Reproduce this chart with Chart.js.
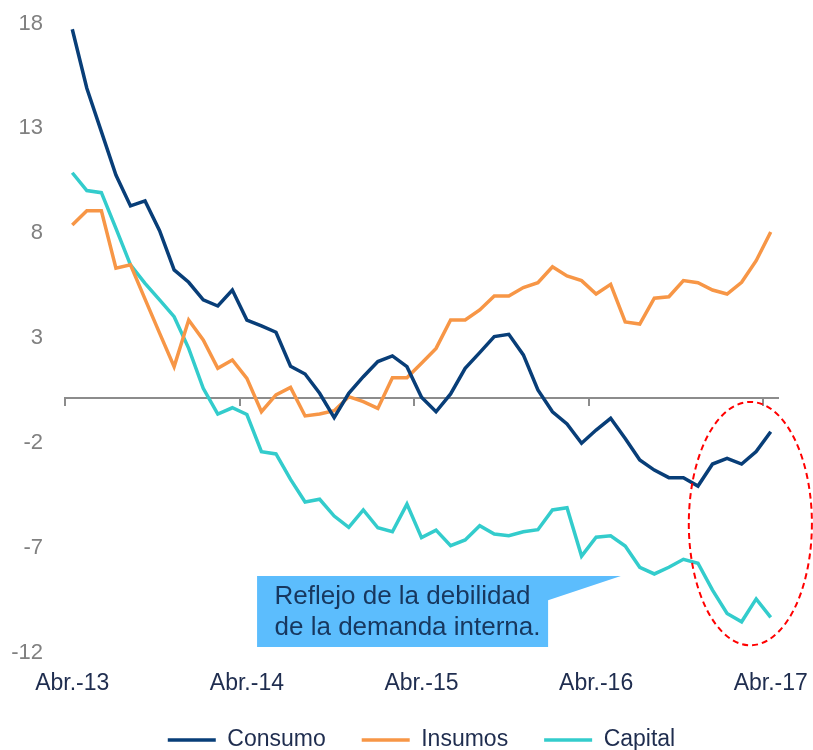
<!DOCTYPE html>
<html>
<head>
<meta charset="utf-8">
<script src="https://cdn.jsdelivr.net/npm/chart.js@4.4.0/dist/chart.umd.min.js"></script>
<style>
  html, body { margin: 0; padding: 0; background: #fff; }
</style>
</head>
<body>
<canvas id="chart" width="813" height="750"></canvas>
<script>
// meses abr-13 .. abr-17
const meses = ['Abr.', 'May.', 'Jun.', 'Jul.', 'Ago.', 'Sep.', 'Oct.', 'Nov.', 'Dic.', 'Ene.', 'Feb.', 'Mar.'];
const etiquetas = [];
for (let i = 0; i < 49; i++) {
  etiquetas.push(meses[i % 12] + '-' + (13 + Math.floor((i + 3) / 12)));
}

const consumo = [17.56, 14.75, 12.68, 10.61, 9.14, 9.38, 7.96, 6.09, 5.50, 4.66, 4.37, 5.13,
  3.70, 3.42, 3.12, 1.50, 1.13, 0.21, -0.95, 0.21, 1.00, 1.72, 1.99, 1.48,
  0.02, -0.67, 0.18, 1.40, 2.15, 2.91, 3.02, 2.04, 0.37, -0.67, -1.25, -2.17,
  -1.54, -0.98, -1.94, -2.97, -3.45, -3.81, -3.81, -4.21, -3.16, -2.89, -3.16, -2.57,
  -1.62];
const insumos = [8.23, 8.91, 8.91, 6.17, 6.33, 4.70, 3.08, 1.48, 3.70, 2.75, 1.40, 1.80,
  0.92, -0.67, 0.13, 0.49, -0.87, -0.78, -0.62, 0.05, -0.19, -0.51, 0.95, 0.95,
  1.64, 2.35, 3.70, 3.70, 4.18, 4.85, 4.85, 5.25, 5.48, 6.24, 5.80, 5.58,
  4.94, 5.40, 3.61, 3.51, 4.74, 4.81, 5.58, 5.48, 5.13, 4.94, 5.50, 6.53,
  7.90];
const capital = [10.72, 9.87, 9.77, 8.07, 6.33, 5.45, 4.66, 3.86, 2.35, 0.45, -0.78, -0.48,
  -0.80, -2.57, -2.68, -3.89, -4.97, -4.84, -5.64, -6.18, -5.35, -6.20, -6.39, -5.07,
  -6.67, -6.31, -7.05, -6.78, -6.10, -6.50, -6.58, -6.39, -6.29, -5.35, -5.24, -7.55,
  -6.65, -6.58, -7.07, -8.08, -8.40, -8.08, -7.70, -7.89, -9.17, -10.28, -10.68, -9.59,
  -10.47];
const yTicks = [-12, -7, -2, 3, 8, 13, 18];
const nota = ['Reflejo de la debilidad', 'de la demanda interna.'];

const fuente = '"Liberation Sans", Arial, sans-serif';
const gris = '#8c8c8c';
const azulTexto = '#1f2d4f';

// callout y elipse roja, en unidades de los ejes
const notas = {
  id: 'notas',
  afterLayout(chart) {
    // las etiquetas del eje x se solapan con la zona de la leyenda, no recortarlas
    chart.scales.x.bottom = chart.height;
  },
  afterDatasetsDraw(chart) {
    const {ctx} = chart;
    const x = chart.scales.x, y = chart.scales.y;
    const x0 = x.getPixelForValue(0);
    const cw = x.getPixelForValue(1) - x0;
    const px = i => x0 + i * cw;

    ctx.save();
    // caja
    ctx.fillStyle = '#5cbdfd';
    ctx.beginPath();
    ctx.moveTo(px(12.7), y.getPixelForValue(-8.5));
    ctx.lineTo(px(37.7), y.getPixelForValue(-8.5));
    ctx.lineTo(px(32.7), y.getPixelForValue(-9.65));
    ctx.lineTo(px(32.7), y.getPixelForValue(-11.88));
    ctx.lineTo(px(12.7), y.getPixelForValue(-11.88));
    ctx.closePath();
    ctx.fill();

    ctx.fillStyle = '#17375e';
    ctx.font = '26px ' + fuente;
    ctx.textBaseline = 'middle';
    ctx.textAlign = 'left';
    ctx.fillText(nota[0], px(13.9), y.getPixelForValue(-9.5));
    ctx.fillText(nota[1], px(13.9), y.getPixelForValue(-10.98));

    // elipse
    const cx = px(46.6), cy = y.getPixelForValue(-6.0);
    const rx = 4.23 * cw, ry = y.getPixelForValue(0) - y.getPixelForValue(5.8);
    ctx.strokeStyle = '#ff0000';
    ctx.lineWidth = 2;
    ctx.setLineDash([6, 4]);
    ctx.beginPath();
    ctx.ellipse(cx, cy, rx, ry, 0, 0, Math.PI * 2);
    ctx.stroke();
    ctx.restore();
  }
};

const serie = (label, data, color) => ({
  label: label,
  data: data,
  borderColor: color,
  backgroundColor: color,
  borderWidth: 3.5,
  pointRadius: 0,
  tension: 0,
  xAxisID: 'x'
});

new Chart(document.getElementById('chart'), {
  type: 'line',
  data: {
    labels: etiquetas,
    datasets: [
      serie('Consumo', consumo, '#083e78'),
      serie('Insumos', insumos, '#f79646'),
      serie('Capital', capital, '#33cccc')
    ]
  },
  options: {
    responsive: false,
    animation: false,
    layout: { padding: { left: 11, right: 35, top: 20, bottom: -11.5 } },
    plugins: {
      tooltip: { enabled: false },
      legend: {
        position: 'bottom',
        fullSize: false,
        labels: {
          usePointStyle: true,
          pointStyle: 'line',
          pointStyleWidth: 48,
          padding: 36,
          color: azulTexto,
          font: { family: fuente, size: 23 }
        }
      }
    },
    scales: {
      x: {
        type: 'category',
        position: 'bottom',
        offset: true,
        grid: { display: false, drawTicks: false },
        border: { display: false },
        ticks: {
          autoSkip: false,
          maxRotation: 0,
          padding: 20,
          color: azulTexto,
          font: { family: fuente, size: 23 },
          callback: (v, i) => (i % 12 === 0 ? etiquetas[i] : '')
        },
        afterFit: s => {
          s.height = 43;
          s.paddingLeft = 0;
          s.paddingRight = 0;
        }
      },
      x2: {
        type: 'category',
        labels: etiquetas,
        position: { y: 0 },
        offset: true,
        grid: {
          offset: true,
          drawOnChartArea: false,
          drawTicks: true,
          tickLength: 7,
          lineWidth: 2,
          color: ctx => (ctx.index % 12 === 0 ? gris : 'rgba(0,0,0,0)')
        },
        border: { display: true, color: gris, width: 2 },
        ticks: { display: false, autoSkip: false }
      },
      y: {
        min: -12,
        max: 18,
        grid: { display: false, drawTicks: false },
        border: { display: false },
        afterBuildTicks: s => { s.ticks = yTicks.map(v => ({ value: v })); },
        afterFit: s => {
          s.width = 54;
          s.paddingTop = 0;
          s.paddingBottom = 0;
        },
        ticks: {
          padding: 22,
          labelOffset: 3.5,
          color: '#808080',
          font: { family: fuente, size: 22 }
        }
      }
    }
  },
  plugins: [notas]
});
</script>
</body>
</html>
